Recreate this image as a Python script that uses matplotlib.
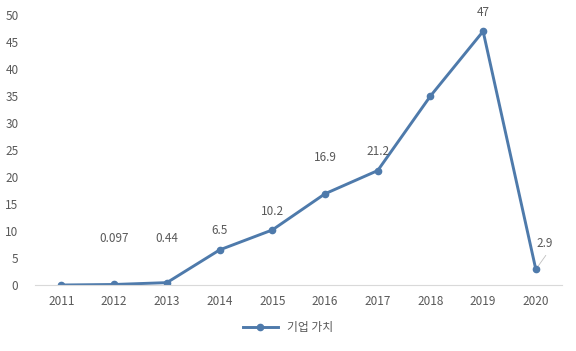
import matplotlib.pyplot as plt

plt.rcParams['font.family'] = ['Noto Sans CJK KR', 'DejaVu Sans']

years = ['2011', '2012', '2013', '2014', '2015', '2016', '2017', '2018', '2019', '2020']
values = [0, 0.097, 0.44, 6.5, 10.2, 16.9, 21.2, 35, 47, 2.9]
labels = ['', '0.097', '0.44', '6.5', '10.2', '16.9', '21.2', '', '47', '2.9']
series_name = '기업 가치'

# label offsets in pixels (dx, dy) from the point to the label centre
label_offsets = [(0, 0), (0, 46), (0, 44), (0, 19), (0, 18), (0, 36), (0, 19), (0, 0), (0, 19), (9, 26)]

color = '#4e7aab'
text_color = '#595959'

fig = plt.figure(figsize=(5.76, 3.51), dpi=100)
ax = fig.add_axes([0.061, 0.188, 0.915, 0.769])

x = list(range(len(years)))
ax.plot(x, values, color=color, linewidth=2.1, marker='o', markersize=4.5,
        label=series_name, solid_joinstyle='round')

px = 72 / fig.dpi
for i, (v, lab) in enumerate(zip(values, labels)):
    if not lab:
        continue
    dx, dy = label_offsets[i]
    ax.annotate(lab, xy=(i, v), xytext=(dx * px, dy * px), textcoords='offset points',
                ha='center', va='center', fontsize=8.5, color=text_color)

# leader line for the last label
ax.annotate('', xy=(len(values) - 1, values[-1]), xytext=(10 * px, 14 * px),
            textcoords='offset points',
            arrowprops=dict(arrowstyle='-', color='#bfbfbf', lw=0.6, shrinkA=0, shrinkB=3))

ax.set_xlim(-0.5, len(years) - 0.5)
ax.set_ylim(0, 50)
ax.set_yticks(range(0, 51, 5))
ax.set_xticks(x)
ax.set_xticklabels(years)

for s in ['top', 'right', 'left']:
    ax.spines[s].set_visible(False)
ax.spines['bottom'].set_color('#d9d9d9')
ax.spines['bottom'].set_linewidth(0.8)
ax.tick_params(axis='both', length=0, labelsize=8.5, labelcolor=text_color)
ax.tick_params(axis='x', pad=7)
ax.tick_params(axis='y', pad=12)

leg = fig.legend(loc='center', bbox_to_anchor=(0.5, 0.066), frameon=False,
                 fontsize=8.5, handlelength=3)
for t in leg.get_texts():
    t.set_color(text_color)

fig.savefig('out.png', dpi=100)
